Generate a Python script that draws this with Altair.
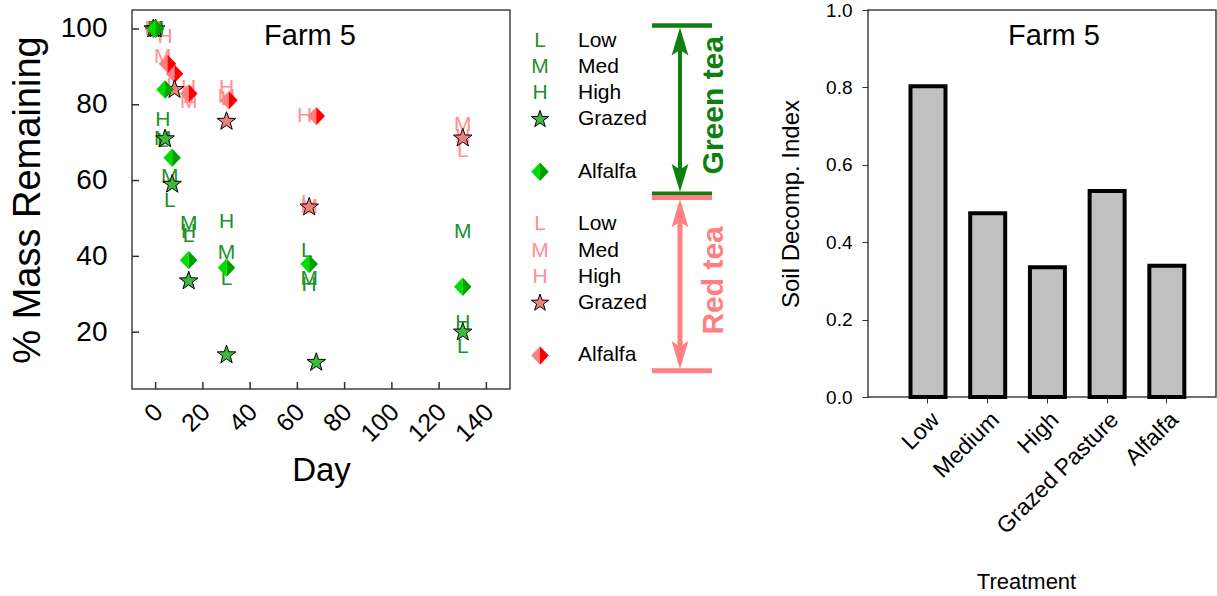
import altair as alt
import pandas as pd

FONT = "Liberation Sans"

# ---------------- Scatter data: % mass remaining vs day (Farm 5) ----------------
# Green tea
g_grazed_day = [0, 4, 7, 14, 30, 68, 130]
g_grazed_val = [100, 71, 59, 33.5, 14, 12, 20]
g_alf_day = [0, 4, 7, 14, 30, 65, 130]
g_alf_val = [100, 84, 66, 39, 37, 38, 32]
g_L_day = [0, 3, 6, 14, 30, 64, 130]
g_L_val = [100, 70.5, 54.5, 45.5, 34, 41.5, 16]
g_M_day = [0, 3, 6, 14, 30, 65, 130]
g_M_val = [100, 71, 61, 48.5, 41, 34, 46.5]
g_H_day = [0, 3, 14, 30, 65, 130]
g_H_val = [100, 76, 46.5, 49, 32.5, 22.5]
# Red tea
r_grazed_day = [-1, 8, 30, 65, 130]
r_grazed_val = [100, 84, 75.6, 53, 71.2]
r_alf_day = [-1, 5, 8, 14, 31, 68]
r_alf_val = [100, 90.8, 88.2, 83, 81.2, 77]
r_L_day = [-1, 7, 14, 30, 64, 130]
r_L_val = [100, 85, 82, 81.5, 54, 67.7]
r_M_day = [-1, 3, 14, 30, 65, 130]
r_M_val = [100, 92.6, 80.8, 82, 53, 74.7]
r_H_day = [-1, 4, 14, 30, 63, 130]
r_H_val = [100, 97.8, 84.5, 84.3, 76.9, 71.5]

day_ticks = [0, 20, 40, 60, 80, 100, 120, 140]
mass_ticks = [20, 40, 60, 80, 100]

# ---------------- Bar data ----------------
treatments = ["Low", "Medium", "High", "Grazed Pasture", "Alfalfa"]
sdi = [0.803, 0.475, 0.335, 0.532, 0.339]
sdi_ticks = [0.0, 0.2, 0.4, 0.6, 0.8, 1.0]

# ---------------- Legend ----------------
legend_rows = [0, 1, 2, 3, 5, 7, 8, 9, 10, 12]
legend_labels = ["Low", "Med", "High", "Grazed", "Alfalfa",
                 "Low", "Med", "High", "Grazed", "Alfalfa"]
legend_syms = ["L", "M", "H", "star", "diamond", "L", "M", "H", "star", "diamond"]
legend_tea = ["green"] * 5 + ["red"] * 5

# colours
G_TXT = "#228f2a"
R_TXT = "#ff9090"
G_STAR = "#3dbb3d"
R_STAR = "#f08080"
G_DIA_L, G_DIA_R = "#00dd00", "#00a000"
R_DIA_L, R_DIA_R = "#ff8080", "#ff0000"
G_BR = "#0f800f"
R_BR = "#ff8080"

STAR = ("M0,-1L0.235,-0.324L0.951,-0.309L0.38,0.124L0.588,0.809L0,0.4"
        "L-0.588,0.809L-0.38,0.124L-0.951,-0.309L-0.235,-0.324Z")
DIA_L = "M-0.95,0L0,-1L0,1Z"
DIA_R = "M0,-1L0.95,0L0,1Z"
ARROW_UP = "M0,0L0.6,2L0,1.6L-0.6,2Z"
ARROW_DOWN = "M0,0L0.6,-2L0,-1.6L-0.6,-2Z"

SW, SH = 378, 379


def xy(days, vals, **kw):
    d = pd.DataFrame({"day": days, "val": vals})
    for k, v in kw.items():
        d[k] = v
    return d


xscale = alt.Scale(domain=[-10, 150], nice=False, zero=False)
yscale = alt.Scale(domain=[5, 105], nice=False, zero=False)

X = alt.X("day:Q", scale=xscale, title="Day",
          axis=alt.Axis(values=day_ticks, ticks=False, tickSize=0, domain=False,
                        grid=False, labelAngle=-45, labelAlign="right",
                        labelBaseline="top", labelPadding=10, labelFontSize=25,
                        labelOverlap=False, labelBound=False, labelOffset=-6,
                        labelFont=FONT, labelColor="black", titleFont=FONT,
                        titleFontSize=33, titleFontWeight="normal",
                        titleColor="black", titlePadding=8))
Y = alt.Y("val:Q", scale=yscale, title="% Mass Remaining",
          axis=alt.Axis(values=mass_ticks, ticks=False, tickSize=0, domain=False,
                        grid=False, labelPadding=25, labelFontSize=28,
                        labelOverlap=False,
                        labelFont=FONT, labelColor="black", titleFont=FONT,
                        titleFontSize=38, titleFontWeight="normal",
                        titleColor="black", titlePadding=13))

letters = pd.concat([
    xy(r_L_day, r_L_val, letter="L", tea="red"),
    xy(r_M_day, r_M_val, letter="M", tea="red"),
    xy(r_H_day, r_H_val, letter="H", tea="red"),
])
g_letters = pd.concat([
    xy(g_L_day, g_L_val, letter="L", tea="green"),
    xy(g_M_day, g_M_val, letter="M", tea="green"),
    xy(g_H_day, g_H_val, letter="H", tea="green"),
])

txt_kw = dict(font=FONT, fontSize=21, align="center", baseline="middle")

r_let = alt.Chart(letters).mark_text(color=R_TXT, **txt_kw).encode(x=X, y=Y, text="letter:N")
g_let = alt.Chart(g_letters).mark_text(color=G_TXT, **txt_kw).encode(x=X, y=Y, text="letter:N")


def pts(df, shape, fill, size, stroke=None):
    kw = dict(shape=shape, filled=True, fill=fill, fillOpacity=1, size=size)
    if stroke:
        kw.update(stroke=stroke, strokeWidth=1, strokeOpacity=1)
    else:
        kw.update(strokeWidth=0)
    return alt.Chart(df).mark_point(**kw).encode(x=X, y=Y)


r_alf = xy(r_alf_day, r_alf_val)
g_alf = xy(g_alf_day, g_alf_val)
layers = [
    r_let,
    pts(r_alf, DIA_L, R_DIA_L, 340), pts(r_alf, DIA_R, R_DIA_R, 340),
    pts(xy(r_grazed_day, r_grazed_val), STAR, R_STAR, 380, "black"),
    g_let,
    pts(xy(g_grazed_day, g_grazed_val), STAR, G_STAR, 380, "black"),
    pts(g_alf, DIA_L, G_DIA_L, 340), pts(g_alf, DIA_R, G_DIA_R, 340),
]

# inward tick marks drawn from the tick value lists
ytick_rules = alt.Chart(pd.DataFrame({"val": mass_ticks})).mark_rule(
    color="#333333", strokeWidth=1.5).encode(y=Y, x=alt.value(0), x2=alt.value(7))
xtick_rules = alt.Chart(pd.DataFrame({"day": day_ticks})).mark_rule(
    color="#333333", strokeWidth=1.5).encode(x=X, y=alt.value(SH), y2=alt.value(SH - 7))

farm_title = alt.Chart(pd.DataFrame({"a": [0]})).mark_text(
    font=FONT, fontSize=29, align="center", baseline="alphabetic", color="black"
).encode(x=alt.value(178), y=alt.value(35), text=alt.datum("Farm 5"))

scatter = alt.layer(*layers, ytick_rules, xtick_rules, farm_title).properties(
    width=SW, height=SH,
    view=alt.ViewBackground(stroke="#404040", strokeWidth=1.5, fill="white"))

# ---------------- Legend panel ----------------
leg = pd.DataFrame({"row": legend_rows, "label": legend_labels,
                    "sym": legend_syms, "tea": legend_tea})
LY = alt.Y("row:Q", scale=alt.Scale(domain=[-1.17, 13.28], reverse=True,
                                     nice=False, zero=False), axis=None)
SYMX = 20
LABX = 58

leg_text = alt.Chart(leg).mark_text(font=FONT, fontSize=21, align="left",
                                    baseline="middle", color="black").encode(
    x=alt.value(LABX), y=LY, text="label:N")
leg_gl = alt.Chart(leg).transform_filter(
    "indexof(['L','M','H'], datum.sym) >= 0 && datum.tea == 'green'").mark_text(
    font=FONT, fontSize=21, align="center", baseline="middle", color=G_TXT).encode(
    x=alt.value(SYMX), y=LY, text="sym:N")
leg_rl = alt.Chart(leg).transform_filter(
    "indexof(['L','M','H'], datum.sym) >= 0 && datum.tea == 'red'").mark_text(
    font=FONT, fontSize=21, align="center", baseline="middle", color=R_TXT).encode(
    x=alt.value(SYMX), y=LY, text="sym:N")


def leg_pt(sym, tea, shape, fill, size, stroke=None):
    kw = dict(shape=shape, filled=True, fill=fill, fillOpacity=1, size=size)
    if stroke:
        kw.update(stroke=stroke, strokeWidth=1, strokeOpacity=1)
    else:
        kw.update(strokeWidth=0)
    return alt.Chart(leg).transform_filter(
        f"datum.sym == '{sym}' && datum.tea == '{tea}'").mark_point(**kw).encode(
        x=alt.value(SYMX), y=LY)


leg_syms_layers = [
    leg_pt("star", "green", STAR, G_STAR, 320, "black"),
    leg_pt("star", "red", STAR, R_STAR, 320, "black"),
    leg_pt("diamond", "green", DIA_L, G_DIA_L, 340),
    leg_pt("diamond", "green", DIA_R, G_DIA_R, 340),
    leg_pt("diamond", "red", DIA_L, R_DIA_L, 340),
    leg_pt("diamond", "red", DIA_R, R_DIA_R, 340),
]

# brackets (in legend-row units)
g_bars = [-0.58, 5.84]
r_bars = [5.98, 12.58]
BRX1, BRX2, BRXC = 132, 192, 160


def hbars(rows, color, w):
    return alt.Chart(pd.DataFrame({"row": rows})).mark_rule(
        color=color, strokeWidth=w).encode(
        y=LY, x=alt.value(BRX1), x2=alt.value(BRX2))


def vline(rows, color, w):
    return alt.Chart(pd.DataFrame({"row": [rows[0]], "row2": [rows[1]]})).mark_rule(
        color=color, strokeWidth=w).encode(
        y=LY, y2="row2:Q", x=alt.value(BRXC))


def arrow(row, shape, color):
    return alt.Chart(pd.DataFrame({"row": [row]})).mark_point(
        shape=shape, filled=True, fill=color, fillOpacity=1, strokeWidth=0,
        size=784).encode(y=LY, x=alt.value(BRXC))


bracket_layers = [
    vline([g_bars[0] + 0.3, g_bars[1] - 0.3], G_BR, 4), hbars(g_bars, G_BR, 4.5),
    arrow(-0.5, ARROW_UP, G_BR), arrow(5.77, ARROW_DOWN, G_BR),
    vline([r_bars[0] + 0.3, r_bars[1] - 0.3], R_BR, 5), hbars(r_bars, R_BR, 5),
    arrow(6.05, ARROW_UP, R_BR), arrow(12.52, ARROW_DOWN, R_BR),
]

tea_labels = pd.DataFrame({"row": [2.46, 9.14], "lab": ["Green tea", "Red tea"],
                           "tea": ["green", "red"]})
tea_g = alt.Chart(tea_labels).transform_filter("datum.tea == 'green'").mark_text(
    font=FONT, fontSize=30, fontWeight="bold", angle=270, align="center",
    baseline="middle", color=G_BR).encode(y=LY, x=alt.value(194), text="lab:N")
tea_r = alt.Chart(tea_labels).transform_filter("datum.tea == 'red'").mark_text(
    font=FONT, fontSize=30, fontWeight="bold", angle=270, align="center",
    baseline="middle", color=R_BR).encode(y=LY, x=alt.value(194), text="lab:N")

legend_panel = alt.layer(
    leg_text, leg_gl, leg_rl, *leg_syms_layers, *bracket_layers, tea_g, tea_r
).properties(width=220, height=SH,
             view=alt.ViewBackground(strokeOpacity=0, fill="white"))

# ---------------- Bar chart ----------------
BW, BH = 348, 387
bdf = pd.DataFrame({"treatment": treatments, "sdi": sdi})
bars = alt.Chart(bdf).mark_bar(fill="#c0c0c0", stroke="black", strokeWidth=4).encode(
    x=alt.X("treatment:N", sort=treatments, title="Treatment",
            scale=alt.Scale(paddingInner=0.414, paddingOuter=0.621, align=0.573),
            axis=alt.Axis(labelAngle=-45, labelAlign="right", labelBaseline="top",
                          tickSize=6, tickColor="#333333", labelPadding=5,
                          labelFontSize=23, labelFont=FONT, labelColor="black",
                          domain=False, titleFont=FONT, titleFontSize=22,
                          titleFontWeight="normal", titleColor="black",
                          titlePadding=33, titleX=158)),
    y=alt.Y("sdi:Q", title="Soil Decomp. Index",
            scale=alt.Scale(domain=[0, 1], nice=False),
            axis=alt.Axis(values=sdi_ticks, format=".1f", tickSize=6,
                          tickColor="#333333", labelPadding=10, labelFontSize=19,
                          labelFont=FONT, labelColor="black", domain=False,
                          grid=False, titleFont=FONT, titleFontSize=24,
                          titleFontWeight="normal", titleColor="black",
                          titlePadding=22)),
)
bar_title = alt.Chart(pd.DataFrame({"a": [0]})).mark_text(
    font=FONT, fontSize=29, align="center", baseline="alphabetic", color="black"
).encode(x=alt.value(186), y=alt.value(35), text=alt.datum("Farm 5"))

bar_chart = alt.layer(bars, bar_title).properties(
    width=BW, height=BH,
    view=alt.ViewBackground(stroke="#404040", strokeWidth=1.5, fill="white"))

left = alt.hconcat(scatter, legend_panel, spacing=9)
chart = alt.hconcat(left, bar_chart, spacing=38).properties(
    padding={"left": 8, "top": 0, "right": 0, "bottom": 0},
    background="white")

chart.save("out.html", embed_options={"renderer": "svg", "actions": False})
